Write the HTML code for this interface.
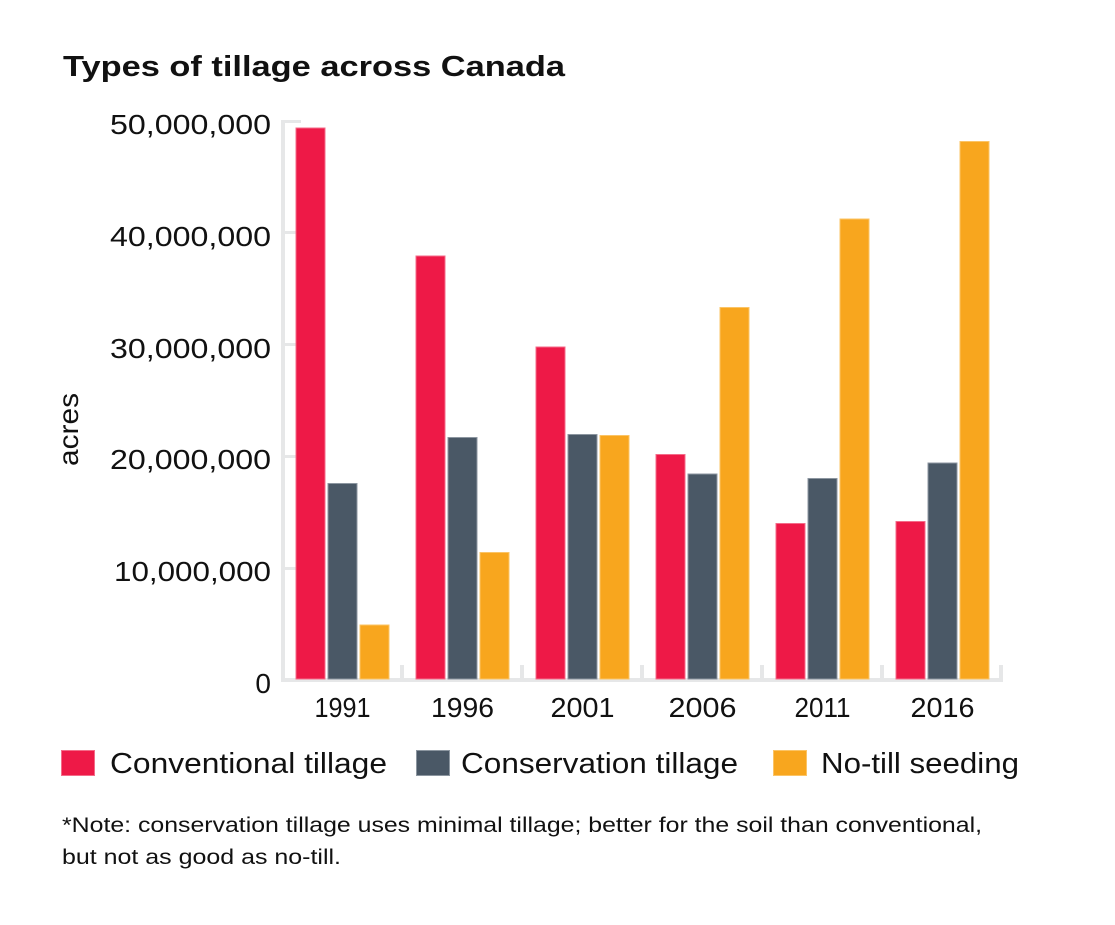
<!DOCTYPE html>
<html>
<head>
<meta charset="utf-8">
<style>
  html, body { margin: 0; padding: 0; background: #ffffff; }
  body { width: 1115px; height: 925px; overflow: hidden; }
  svg { display: block; }
  text { font-family: "Liberation Sans", "DejaVu Sans", sans-serif; fill: #111111; }
</style>
</head>
<body>
<svg width="1115" height="925" viewBox="0 0 1115 925" xmlns="http://www.w3.org/2000/svg">
  <rect x="0" y="0" width="1115" height="925" fill="#ffffff"/>

  <!-- Title -->
  <text x="63" y="76" font-size="29" font-weight="bold" textLength="502" lengthAdjust="spacingAndGlyphs">Types of tillage across Canada</text>

  <!-- Y axis label -->
  <text transform="translate(78,429.5) rotate(-90)" font-size="28" text-anchor="middle" textLength="73" lengthAdjust="spacingAndGlyphs">acres</text>

  <!-- Y tick labels -->
  <g font-size="28" text-anchor="end">
    <text x="271" y="134" textLength="161" lengthAdjust="spacingAndGlyphs">50,000,000</text>
    <text x="271" y="246" textLength="161" lengthAdjust="spacingAndGlyphs">40,000,000</text>
    <text x="271" y="358" textLength="161" lengthAdjust="spacingAndGlyphs">30,000,000</text>
    <text x="271" y="469" textLength="161" lengthAdjust="spacingAndGlyphs">20,000,000</text>
    <text x="271" y="581" textLength="157" lengthAdjust="spacingAndGlyphs">10,000,000</text>
    <text x="271" y="693">0</text>
  </g>

  <!-- Axes (light gray) -->
  <g fill="#e6e7e8">
    <rect x="281" y="120" width="4" height="562"/>
    <rect x="281" y="120" width="20" height="3"/>
    <rect x="281" y="231" width="16" height="3"/>
    <rect x="281" y="343" width="16" height="3"/>
    <rect x="281" y="455" width="16" height="3"/>
    <rect x="281" y="567" width="16" height="3"/>
    <rect x="281" y="678" width="722" height="4"/>
    <rect x="400" y="665" width="4" height="17"/>
    <rect x="520" y="665" width="4" height="17"/>
    <rect x="640" y="665" width="4" height="17"/>
    <rect x="760" y="665" width="4" height="17"/>
    <rect x="880" y="665" width="4" height="17"/>
    <rect x="999" y="665" width="4" height="17"/>
  </g>

  <!-- Bars -->
  <g stroke-width="1">
    <!-- 1991 -->
    <rect x="296" y="128" width="29" height="551" fill="#ee1947" stroke="#f46b88"/>
    <rect x="328" y="483.5" width="29" height="195.5" fill="#4a5866" stroke="#8c96a0"/>
    <rect x="360" y="625" width="29" height="54" fill="#f8a61e" stroke="#fbc466"/>
    <!-- 1996 -->
    <rect x="416" y="256" width="29" height="423" fill="#ee1947" stroke="#f46b88"/>
    <rect x="448" y="437.5" width="29" height="241.5" fill="#4a5866" stroke="#8c96a0"/>
    <rect x="480" y="552.5" width="29" height="126.5" fill="#f8a61e" stroke="#fbc466"/>
    <!-- 2001 -->
    <rect x="536" y="347" width="29" height="332" fill="#ee1947" stroke="#f46b88"/>
    <rect x="568" y="434.5" width="29" height="244.5" fill="#4a5866" stroke="#8c96a0"/>
    <rect x="600" y="435.5" width="29" height="243.5" fill="#f8a61e" stroke="#fbc466"/>
    <!-- 2006 -->
    <rect x="656" y="454.5" width="29" height="224.5" fill="#ee1947" stroke="#f46b88"/>
    <rect x="688" y="474" width="29" height="205" fill="#4a5866" stroke="#8c96a0"/>
    <rect x="720" y="307.5" width="29" height="371.5" fill="#f8a61e" stroke="#fbc466"/>
    <!-- 2011 -->
    <rect x="776" y="523.5" width="29" height="155.5" fill="#ee1947" stroke="#f46b88"/>
    <rect x="808" y="478.5" width="29" height="200.5" fill="#4a5866" stroke="#8c96a0"/>
    <rect x="840" y="219" width="29" height="460" fill="#f8a61e" stroke="#fbc466"/>
    <!-- 2016 -->
    <rect x="896" y="521.5" width="29" height="157.5" fill="#ee1947" stroke="#f46b88"/>
    <rect x="928" y="463" width="29" height="216" fill="#4a5866" stroke="#8c96a0"/>
    <rect x="960" y="141.5" width="29" height="537.5" fill="#f8a61e" stroke="#fbc466"/>
  </g>

  <!-- X tick labels -->
  <g font-size="28" text-anchor="middle">
    <text x="342.5" y="717" textLength="56" lengthAdjust="spacingAndGlyphs">1991</text>
    <text x="462.5" y="717" textLength="63" lengthAdjust="spacingAndGlyphs">1996</text>
    <text x="582.5" y="717" textLength="64" lengthAdjust="spacingAndGlyphs">2001</text>
    <text x="702.5" y="717" textLength="68" lengthAdjust="spacingAndGlyphs">2006</text>
    <text x="822.5" y="717" textLength="56" lengthAdjust="spacingAndGlyphs">2011</text>
    <text x="942.5" y="717" textLength="64" lengthAdjust="spacingAndGlyphs">2016</text>
  </g>

  <!-- Legend -->
  <rect x="61.5" y="750.5" width="33" height="25" fill="#ee1947" stroke="#f46b88"/>
  <text x="110" y="773" font-size="29" textLength="277" lengthAdjust="spacingAndGlyphs">Conventional tillage</text>
  <rect x="416.5" y="750.5" width="33" height="25" fill="#4a5866" stroke="#8c96a0"/>
  <text x="461" y="773" font-size="29" textLength="277" lengthAdjust="spacingAndGlyphs">Conservation tillage</text>
  <rect x="773.5" y="750.5" width="33" height="25" fill="#f8a61e" stroke="#fbc466"/>
  <text x="821" y="773" font-size="29" textLength="198" lengthAdjust="spacingAndGlyphs">No-till seeding</text>

  <!-- Note -->
  <text x="62" y="832" font-size="21.5" textLength="920" lengthAdjust="spacingAndGlyphs">*Note: conservation tillage uses minimal tillage; better for the soil than conventional,</text>
  <text x="62" y="864" font-size="21.5" textLength="279" lengthAdjust="spacingAndGlyphs">but not as good as no-till.</text>
</svg>
</body>
</html>
